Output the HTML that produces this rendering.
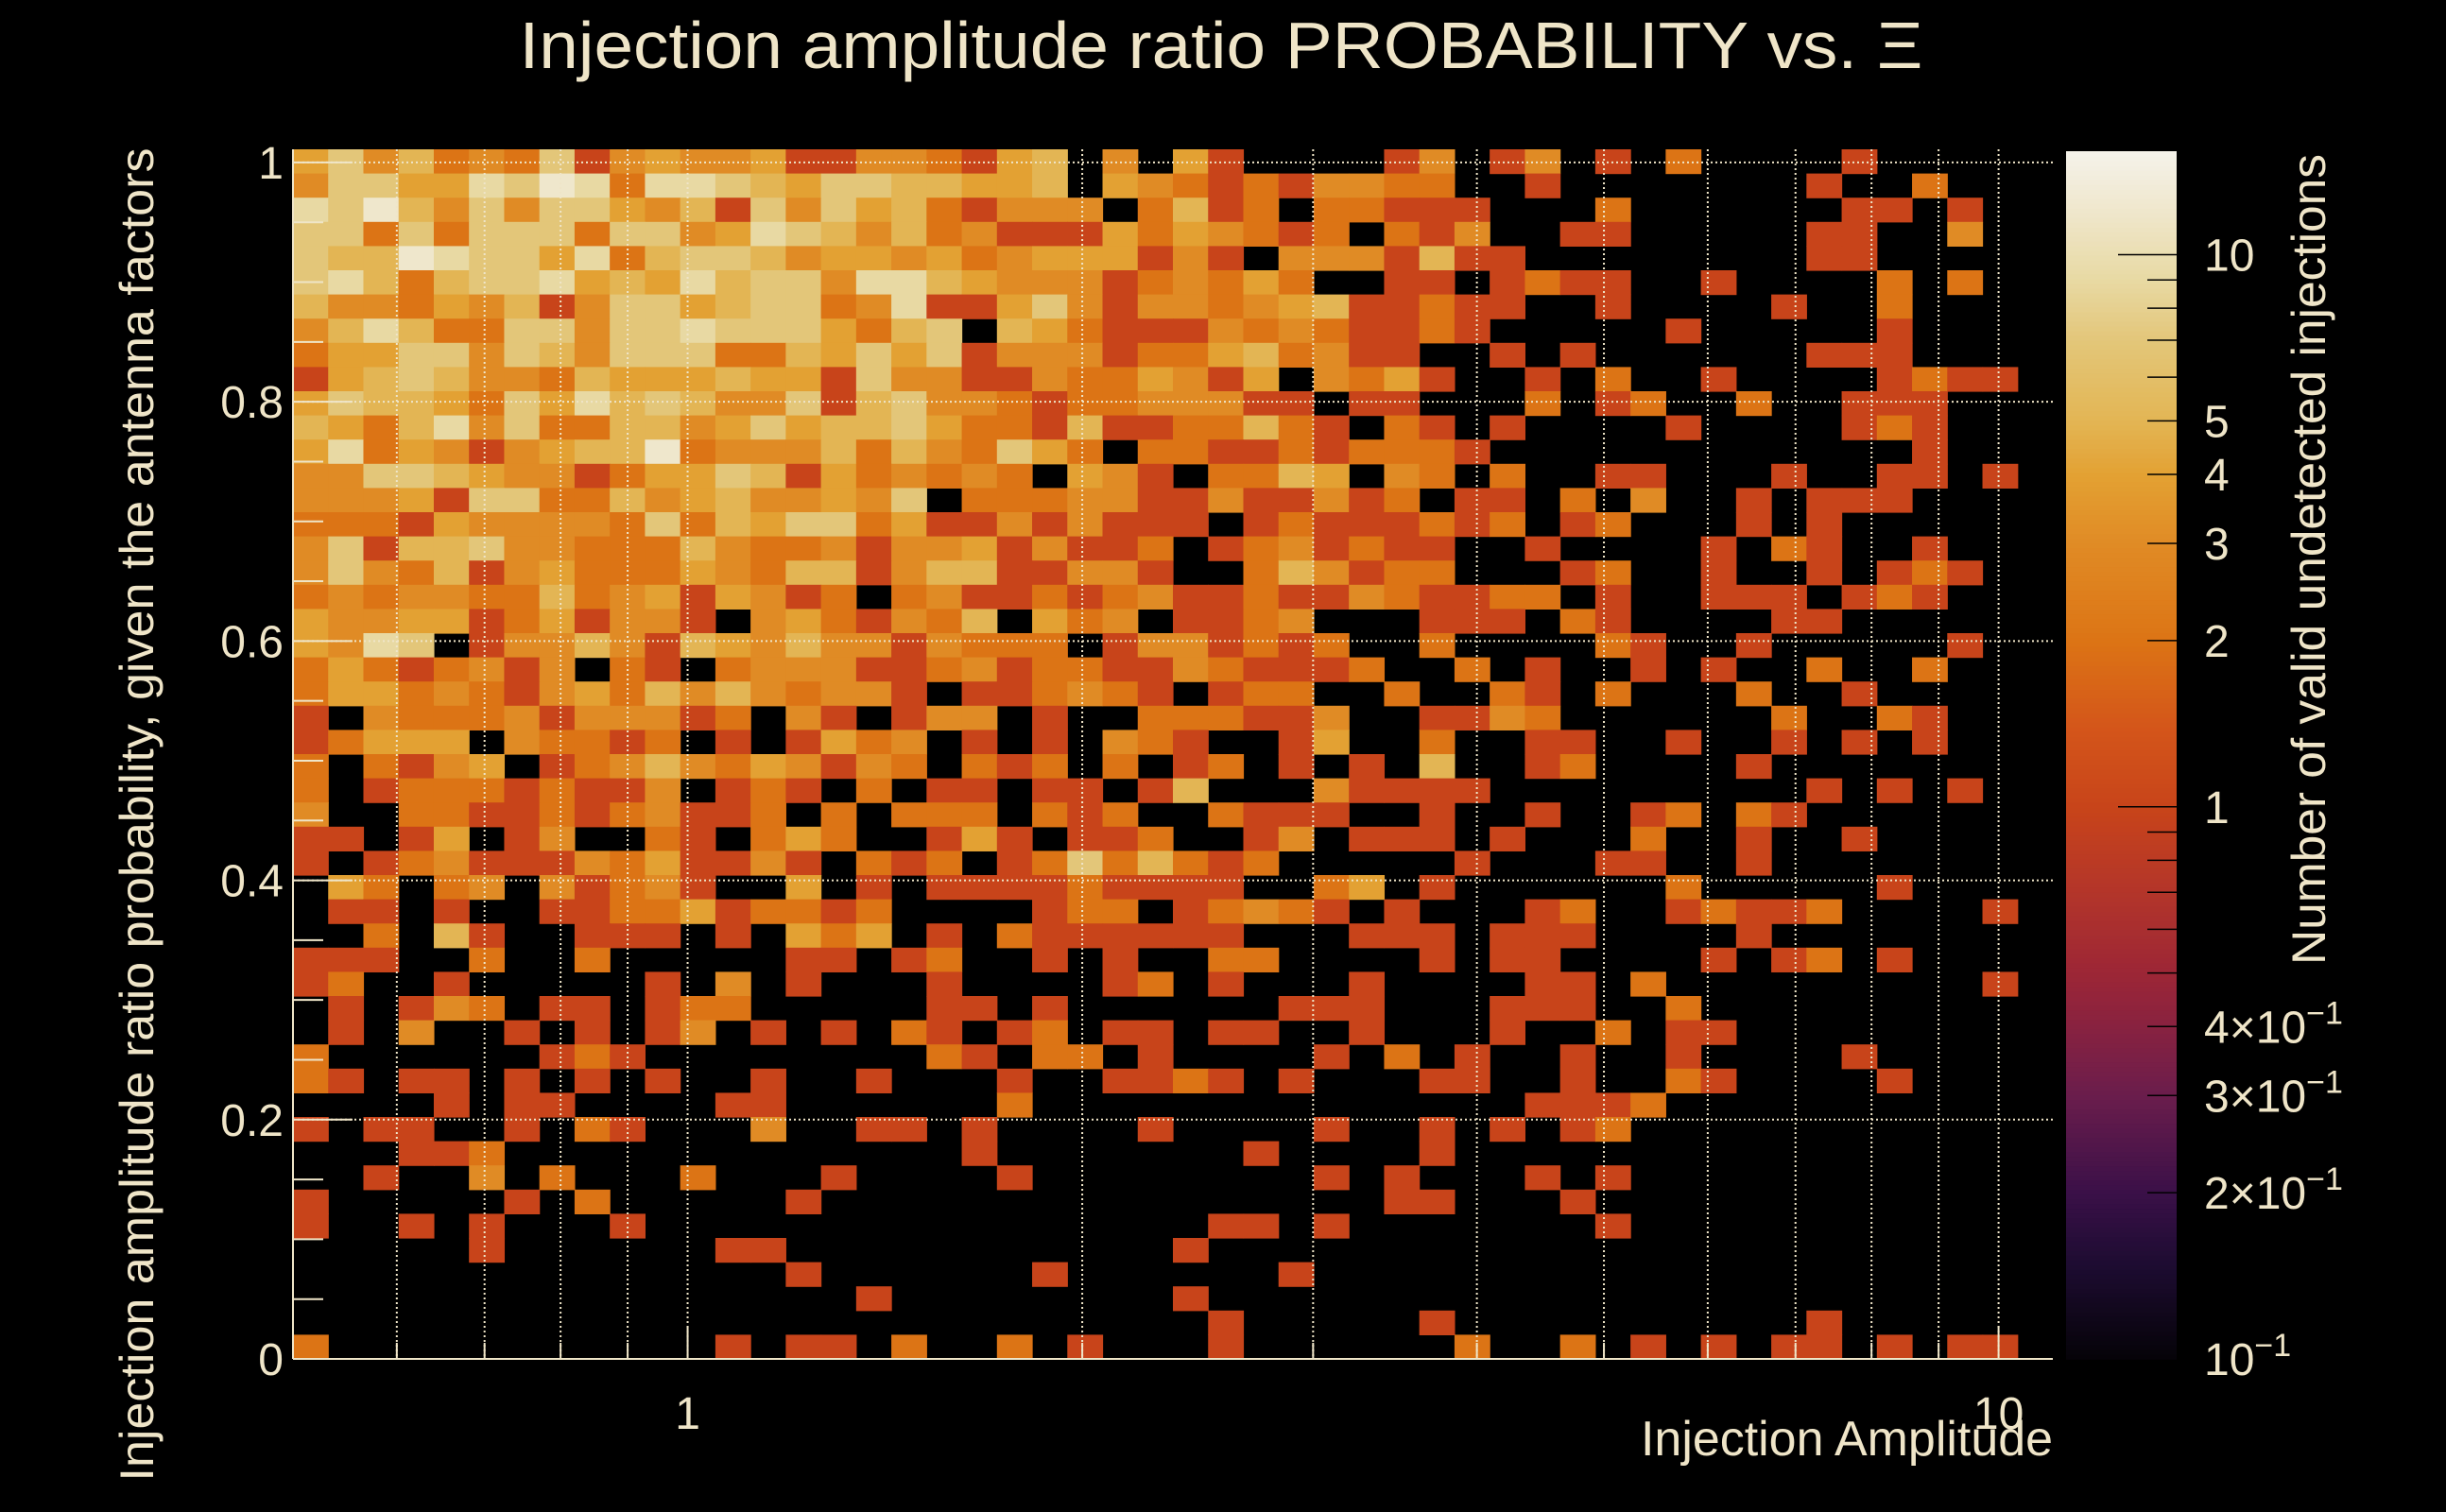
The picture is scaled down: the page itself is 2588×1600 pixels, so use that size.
<!DOCTYPE html>
<html><head><meta charset="utf-8"><title>Injection amplitude ratio PROBABILITY</title>
<style>
html,body{margin:0;padding:0;background:#000;}
svg{display:block;}
text{font-family:"Liberation Sans",sans-serif;fill:#efe5c8;}
</style></head>
<body>
<svg id="chart" width="2588" height="1600" viewBox="0 0 2588 1600" xmlns="http://www.w3.org/2000/svg">
<rect x="0" y="0" width="2588" height="1600" fill="#000"/>
<text x="1292" y="72" font-size="70" text-anchor="middle" textLength="1485" lengthAdjust="spacingAndGlyphs">Injection amplitude ratio PROBABILITY vs.  Ξ</text>
<g id="cells"></g>
<g id="grid"></g>
<g id="axes"></g>
<g id="cbar"></g>
<text x="0" y="0" font-size="50" text-anchor="middle" transform="translate(162,862) rotate(-90)" textLength="1411" lengthAdjust="spacingAndGlyphs">Injection amplitude ratio probability, given the antenna factors</text>
<text x="2172" y="1540" font-size="52" text-anchor="end" textLength="436" lengthAdjust="spacingAndGlyphs">Injection Amplitude</text>
<text x="0" y="0" font-size="50" text-anchor="middle" transform="translate(2460,592) rotate(-90)" textLength="858" lengthAdjust="spacingAndGlyphs">Number of valid undetected injections</text>
</svg>
<script>
const xMin = 0.5, xMax = 11;
const yMin = 0, yMax = 1.011;
const nBinsX = 50, nBinsY = 50;
const levelValues = [0, 1, 2, 3, 4, 5, 7, 9, 12];
const countRows = [
"46352326134334113321450304100001301301020000100000",
"36644768727765466554450432121332200100000001002000",
"76853636643516364521333025120221110002000000110100",
"66262666266347653523111424321202130011000001100300",
"65587664725665344342344413103331511000000001100000",
"67525667454756637754333123242001101211001000020200",
"53324351366456623711463133234511211001000010020000",
"35752266366766642560542111323211210000010000010000",
"24466365366622546461333122452311001010000001110000",
"14565332544454416331132243140324100102001000012110",
"46554264756533615633212233311011000201200200111000",
"54257362255346455642215112252102101000010000121000",
"47243134558233352532642022112122210000000000001000",
"33665433124465142323204310225403202001100010011010",
"33341662253453343602223311311312011020300101110000",
"22214333326254662411313111012111212012000101000000",
"36155633222532231334131120123121100100001021001000",
"36325134222432551355113310025312200012001001012100",
"23233225234143120231121231121132112201001110121000",
"43344124133103421325042301123000111021000011000000",
"43760133531543533132220133121200200002100100000100",
"24212313021023331123122113211120020100101002002000",
"24423213425353233101123210122002002102000200100000",
"10322231333120310133010022211300113200000020021000",
"12444032212010142301010321001400200110010010101000",
"20213401235324313202120201201010500120000100000000",
"20122212113012102011011015000311110000000001010100",
"30022112123112020222021200211100100100120210000000",
"11014013002102420014101120013011101000200100100000",
"10123111324113102120126252120000010001100100000000",
"04202303123100401011112111100240100000020000010000",
"01101001122412212000012201232101000120012112000010",
"00205100111010424010211111100011101110000100000000",
"11100200200000110120010100220000101100001012010000",
"12001000001030100010000120100010000110200000000010",
"01013201101220000011010000001110001110020000000000",
"01030010101301010210120110110010001002011000000000",
"20000001210000000021022010000102010010010000100000",
"21011010101001001000100112101000110010021000010000",
"00001011000011000000200000000000000111200000000000",
"10110010210003001101000010000100101012000000000000",
"00011200000000000001000000010000100000000000000000",
"00100302000200010000100000000101000101000000000000",
"10000010200000100000000000000001100010000000000000",
"10010100010000000000000000110100000001000000000000",
"00000100000011000000000001000000000000000000000000",
"00000000000000100000010000001000000000000000000000",
"00000000000000001000000001000000000000000000000000",
"00000000000000000000000000100000100000000001000000",
"20000000000010110200201000100000020020101011010110"
];
const yTickValues = [0, 0.2, 0.4, 0.6, 0.8, 1];
const yTickLabels = ["0", "0.2", "0.4", "0.6", "0.8", "1"];
const xMajorTicks = [1, 10];
const xMajorLabels = ["1", "10"];
const xMinorTicks = [0.6, 0.7, 0.8, 0.9, 2, 3, 4, 5, 6, 7, 8, 9];
const zMin = 0.1, zMax = 15.4;
const zTickValues = [10, 5, 4, 3, 2, 1, 0.4, 0.3, 0.2, 0.1];
const zTickLabels = ["10", "5", "4", "3", "2", "1", "4×10", "3×10", "2×10", "10"];
const zTickExp = ["", "", "", "", "", "", "−1", "−1", "−1", "−1"];
const zMinorTicks = [9, 8, 7, 6, 0.9, 0.8, 0.7, 0.6, 0.5];
const cmapStops = [[0.1,'#050308'],[0.15,'#1e0c32'],[0.2,'#3a1048'],[0.3,'#6a1d4c'],[0.4,'#882240'],[0.5,'#9c2636'],[0.7,'#b3352a'],[1,'#c8441a'],[1.4,'#d4561a'],[2,'#dc7415'],[3,'#e08b25'],[4,'#e3a133'],[5,'#e3b554'],[7,'#e3c679'],[9,'#e8d9a3'],[12,'#efe7cc'],[15.4,'#f5f2ea']];

const PL = 310, PR = 2172, PT = 158, PB = 1438;
const CBL = 2186, CBR = 2303, CBT = 160, CBB = 1438;
const NS = 'http://www.w3.org/2000/svg';
const xs = v => PL + (Math.log10(v) - Math.log10(xMin)) / (Math.log10(xMax) - Math.log10(xMin)) * (PR - PL);
const ys = v => PB - (v - yMin) / (yMax - yMin) * (PB - PT);
const zs = v => CBB - (Math.log10(v) - Math.log10(zMin)) / (Math.log10(zMax) - Math.log10(zMin)) * (CBB - CBT);
const xEdge = i => Math.pow(10, Math.log10(xMin) + i * (Math.log10(xMax) - Math.log10(xMin)) / nBinsX);
const yEdge = j => yMin + j * (yMax - yMin) / nBinsY;

function hex2rgb(h){return [parseInt(h.substr(1,2),16),parseInt(h.substr(3,2),16),parseInt(h.substr(5,2),16)];}
function cmap(v){
  if (v <= cmapStops[0][0]) return cmapStops[0][1];
  for (let k = 1; k < cmapStops.length; k++) {
    if (v <= cmapStops[k][0]) {
      const a = cmapStops[k-1], b = cmapStops[k];
      const t = (Math.log(v) - Math.log(a[0])) / (Math.log(b[0]) - Math.log(a[0]));
      const ca = hex2rgb(a[1]), cb = hex2rgb(b[1]);
      return 'rgb(' + ca.map((c, i) => Math.round(c + (cb[i] - c) * t)).join(',') + ')';
    }
  }
  return cmapStops[cmapStops.length-1][1];
}
function mk(tag, attrs, parent){
  const e = document.createElementNS(NS, tag);
  for (const k in attrs) e.setAttribute(k, attrs[k]);
  parent.appendChild(e);
  return e;
}

const gCells = document.getElementById('cells');
countRows.forEach((row, r) => {
  const j = nBinsY - 1 - r;
  for (let c = 0; c < nBinsX; c++) {
    const lv = parseInt(row.charAt(c) || '0', 10);
    const v = levelValues[lv];
    if (!v) continue;
    const x0 = xs(xEdge(c)), x1 = xs(xEdge(c + 1));
    const yTop = ys(yEdge(j + 1)), yBot = ys(yEdge(j));
    const el = mk('rect', {x: x0.toFixed(2), y: yTop.toFixed(2), width: (x1 - x0 + 0.6).toFixed(2), height: (yBot - yTop + 0.6).toFixed(2), fill: cmap(v)}, gCells);
    
    
  }
});

const gGrid = document.getElementById('grid');
xMajorTicks.concat(xMinorTicks).forEach(v => {
  const el = mk('line', {x1: xs(v), x2: xs(v), y1: PT, y2: PB, stroke: '#efe5c8', 'stroke-width': 2, 'stroke-dasharray': '2 3'}, gGrid);
  
  
});
yTickValues.forEach(v => {
  if (v === 0) return;
  const el = mk('line', {x1: PL, x2: PR, y1: ys(v), y2: ys(v), stroke: '#efe5c8', 'stroke-width': 2, 'stroke-dasharray': '2 3'}, gGrid);
  
  
});

const gAx = document.getElementById('axes');
let ax = mk('line', {x1: PL, x2: PR, y1: PB, y2: PB, stroke: '#efe5c8', 'stroke-width': 2}, gAx);


ax = mk('line', {x1: PL, x2: PL, y1: PT, y2: PB, stroke: '#efe5c8', 'stroke-width': 2}, gAx);


for (let k = 0; k <= 20; k++) {
  const v = k * 0.05;
  const major = (k % 4 === 0);
  const el = mk('line', {x1: PL, x2: PL + (major ? 63 : 32), y1: ys(v), y2: ys(v), stroke: '#efe5c8', 'stroke-width': 2}, gAx);
  
  
}
yTickValues.forEach((v, i) => {
  const t = mk('text', {x: 300, y: ys(v) + 17, 'font-size': 48, 'text-anchor': 'end'}, gAx);
  t.textContent = yTickLabels[i];
  
  
});
xMajorTicks.forEach((v, i) => {
  const el = mk('line', {x1: xs(v), x2: xs(v), y1: PB, y2: PB - 35, stroke: '#efe5c8', 'stroke-width': 2}, gAx);
  
  
  const t = mk('text', {x: xs(v), y: 1512, 'font-size': 48, 'text-anchor': 'middle'}, gAx);
  t.textContent = xMajorLabels[i];
  
  
});
xMinorTicks.forEach(v => {
  const el = mk('line', {x1: xs(v), x2: xs(v), y1: PB, y2: PB - 17, stroke: '#efe5c8', 'stroke-width': 2}, gAx);
  
  
});

const gCb = document.getElementById('cbar');
const nStrips = 256;
for (let k = 0; k < nStrips; k++) {
  const lv0 = Math.log10(zMin) + k * (Math.log10(zMax) - Math.log10(zMin)) / nStrips;
  const lv1 = Math.log10(zMin) + (k + 1) * (Math.log10(zMax) - Math.log10(zMin)) / nStrips;
  const yA = zs(Math.pow(10, lv1)), yB = zs(Math.pow(10, lv0));
  const el = mk('rect', {x: CBL, y: yA.toFixed(2), width: CBR - CBL, height: (yB - yA + 0.8).toFixed(2), fill: cmap(Math.pow(10, (lv0 + lv1) / 2))}, gCb);
  
  
}
zTickValues.forEach((v, i) => {
  const major = (v === 10 || v === 1);
  if (v !== 0.1) {
    const el = mk('line', {x1: CBR - (major ? 62 : 31), x2: CBR, y1: zs(v), y2: zs(v), stroke: '#000', 'stroke-width': 1.5}, gCb);
    
    
  }
  const t = mk('text', {x: 2332, y: zs(v) + 17, 'font-size': 48}, gCb);
  t.textContent = zTickLabels[i];
  if (zTickExp[i]) {
    const s = document.createElementNS(NS, 'tspan');
    s.setAttribute('dy', '-20');
    s.setAttribute('font-size', '34');
    s.textContent = zTickExp[i];
    t.appendChild(s);
  }
  
  
});
zMinorTicks.forEach(v => {
  const el = mk('line', {x1: CBR - 31, x2: CBR, y1: zs(v), y2: zs(v), stroke: '#000', 'stroke-width': 1.5}, gCb);
  
  
});
</script>
</body></html>
